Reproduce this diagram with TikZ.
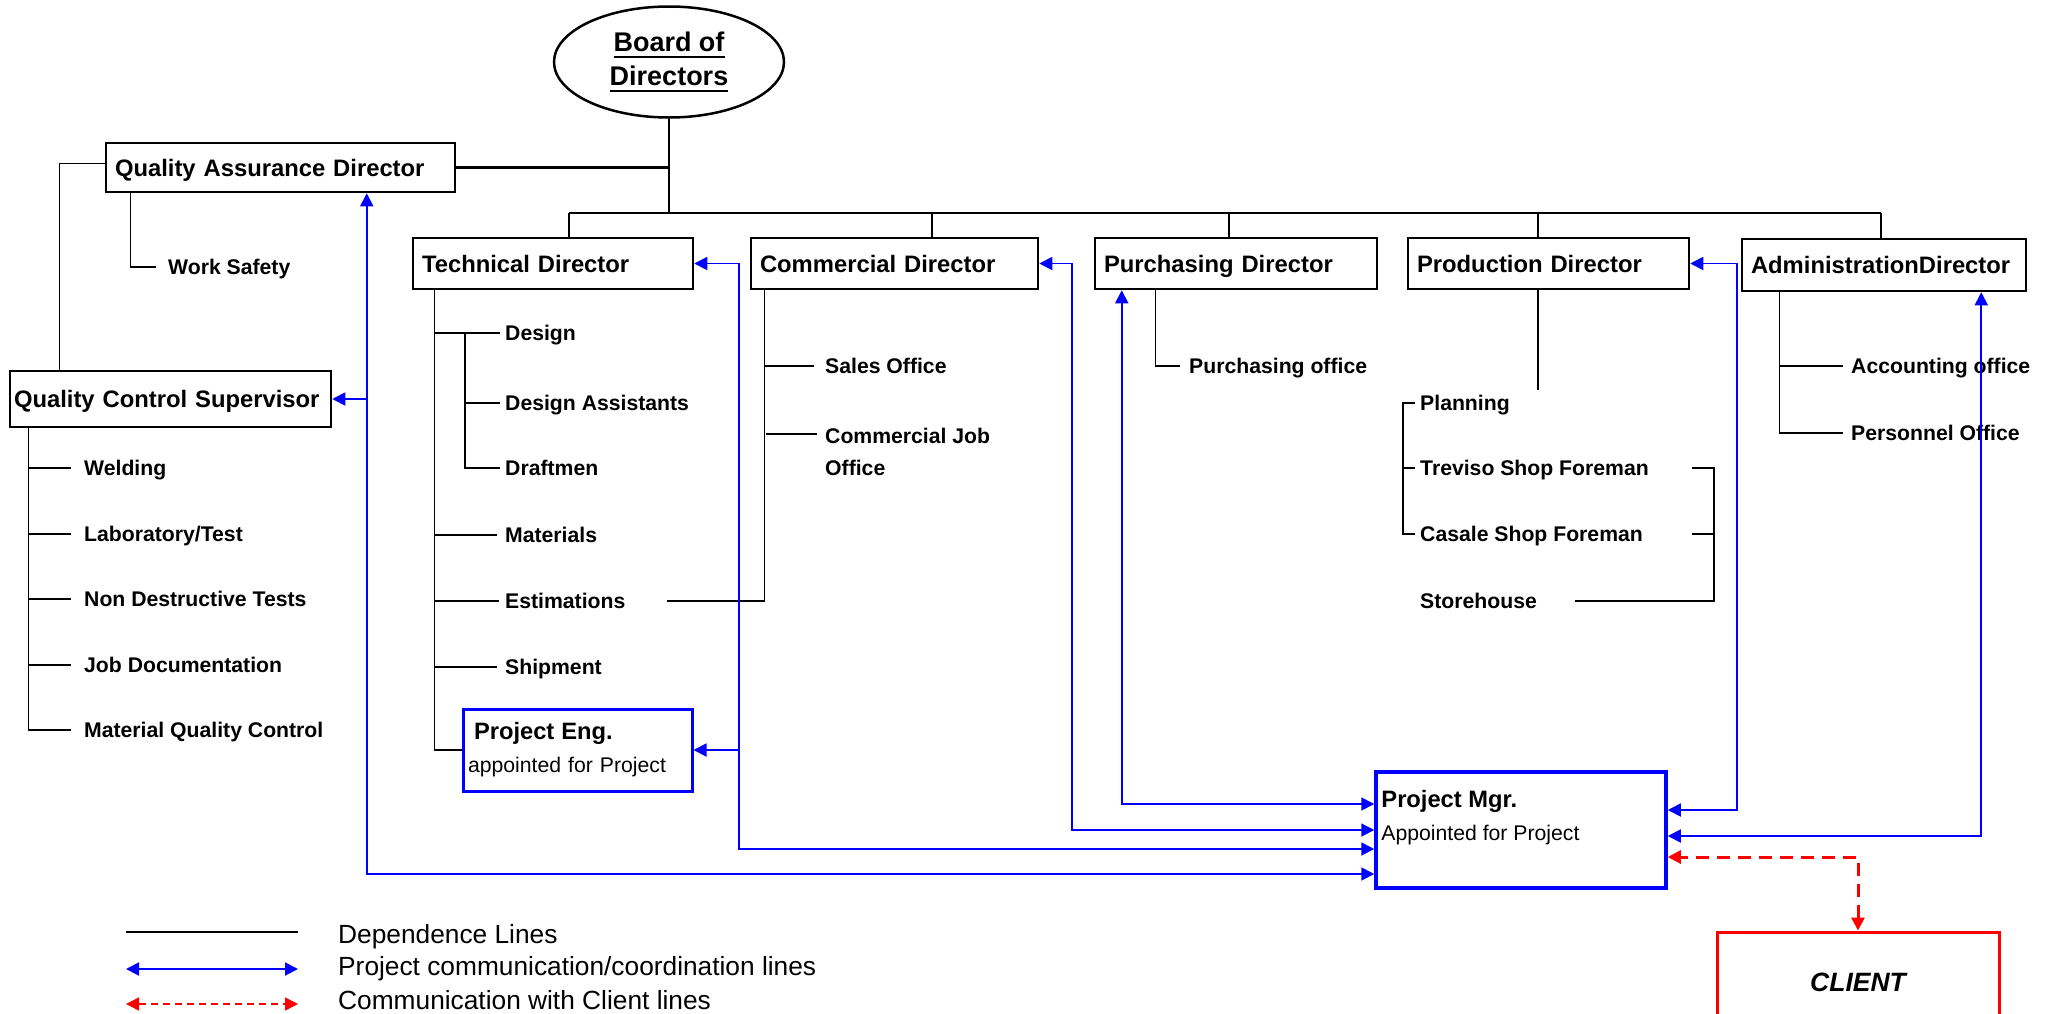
\documentclass[tikz,border=0pt]{standalone}
\usepackage{fontspec}
\setmainfont{Liberation Sans}
\usetikzlibrary{shapes.geometric,arrows.meta}

\newsavebox\ulbox
\newcommand{\ulbold}[1]{\sbox\ulbox{#1}\rlap{\rule[-6.5pt]{\wd\ulbox}{2.5pt}}\usebox\ulbox}

\tikzset{
  dep/.style={draw=black,line width=1.4pt},
  depthick/.style={draw=black,line width=2.6pt},
  pcline/.style={draw=blue,line width=1.8pt},
  cliline/.style={draw=red,line width=3pt,dash pattern=on 13pt off 8pt},
  clilegend/.style={draw=red,line width=1.6pt,dash pattern=on 7pt off 5pt},
  dirbox/.style={draw=black,line width=2.5pt,align=left,inner xsep=9pt,
    text height=17pt,text depth=0pt,font=\bfseries\fontsize{23.8}{28}\selectfont},
  office/.style={anchor=west,inner sep=0pt,text height=15.2pt,text depth=0pt,
    font=\bfseries\fontsize{21.2}{32}\selectfont},
  pebox/.style={draw=blue,line width=3pt,align=left,inner xsep=5pt,
    font=\fontsize{21.2}{33}\selectfont},
  pmbox/.style={draw=blue,line width=3.5pt},
  clibox/.style={draw=red,line width=3pt,font=\bfseries\itshape\fontsize{26.5}{30}\selectfont},
  boardnode/.style={ellipse,draw=black,line width=2.5pt,align=center,inner sep=0pt,
    font=\bfseries\fontsize{27}{34}\selectfont},
  legtext/.style={anchor=west,inner sep=0pt,text height=18.8pt,text depth=0pt,
    font=\fontsize{26.3}{30}\selectfont}
}

\begin{document}
\begin{tikzpicture}[x=1pt,y=-1pt,>={Triangle[length=13pt,width=13pt]}]
  \path[use as bounding box] (0,0) rectangle (2051,1013);

  \node[boardnode,minimum width=230pt,minimum height=111pt] (board) at (669,62) {\ulbold{Board of}\\\ulbold{Directors}};
  \node[dirbox,text width=331pt,minimum height=49pt] (qa) at (280.5,167.5) {Quality Assurance Director};
  \node[dirbox,text width=313pt,inner xsep=4pt,minimum height=56pt] (qcs) at (170.5,399) {Quality Control Supervisor};
  \node[dirbox,text width=262pt,minimum height=51pt] (td) at (553,263.5) {Technical Director};
  \node[dirbox,text width=269pt,minimum height=51pt] (cd) at (894.5,263.5) {Commercial Director};
  \node[dirbox,text width=264pt,minimum height=51pt] (pd) at (1236,263.5) {Purchasing Director};
  \node[dirbox,text width=263pt,minimum height=51pt] (prd) at (1548.5,263.5) {Production Director};
  \node[dirbox,text width=266pt,minimum height=52pt] (ad) at (1884,265) {AdministrationDirector};
  \node[pebox,text width=219pt,minimum height=82pt] (pe) at (577.5,750) {{\bfseries\fontsize{23.7}{33}\selectfont\hspace*{6pt}Project Eng.}\\appointed for Project};
  \node[pmbox,minimum width=290pt,minimum height=116pt] (pm) at (1521,830) {};
  \node[anchor=north west,inner sep=0pt,align=left,font=\fontsize{21.2}{33}\selectfont] (pmtext) at ([xshift=7pt,yshift=-20pt]pm.north west) {{\bfseries\fontsize{23.7}{33}\selectfont Project Mgr.}\\Appointed for Project};
  \node[clibox,minimum width=282pt,minimum height=100pt] (client) at (1858,982) {CLIENT};

  \node[office] (ws) at (168,267) {Work Safety};
  \node[office] (weld) at (84,468) {Welding};
  \node[office] (lab) at (84,534) {Laboratory/Test};
  \node[office] (ndt) at (84,599) {Non Destructive Tests};
  \node[office] (jobdoc) at (84,665) {Job Documentation};
  \node[office] (mqc) at (84,730) {Material Quality Control};
  \node[office] (design) at (505,333) {Design};
  \node[office] (dassist) at (505,403) {Design Assistants};
  \node[office] (draft) at (505,468) {Draftmen};
  \node[office] (mat) at (505,535) {Materials};
  \node[office] (estim) at (505,601) {Estimations};
  \node[office] (ship) at (505,667) {Shipment};
  \node[office] (sales) at (825,366) {Sales Office};
  \node[office,align=left] (cjo) at (825,468) {Commercial Job\\Office};
  \node[office] (po) at (1189,366) {Purchasing office};
  \node[office] (plan) at (1420,403) {Planning};
  \node[office] (tsf) at (1420,468) {Treviso Shop Foreman};
  \node[office] (csf) at (1420,534) {Casale Shop Foreman};
  \node[office] (store) at (1420,601) {Storehouse};
  \node[office] (acc) at (1851,366) {Accounting office};
  \node[office] (pers) at (1851,433) {Personnel Office};

  \node[legtext] (leg1) at (338,934) {Dependence Lines};
  \node[legtext] (leg2) at (338,966) {Project communication/coordination lines};
  \node[legtext] (leg3) at (338,1000) {Communication with Client lines};

  \coordinate (busl) at (569,213);
  \coordinate (busr) at (1881,213);
  \coordinate (bcd) at (932,213);
  \coordinate (bpd) at (1229,213);
  \coordinate (bprd) at (1538,213);
  \draw[depthick] (board.south) -- (board.south |- busl);
  \draw[depthick] (qa.east) -- (qa.east -| board.south);
  \draw[depthick] (busl) -- (busr);
  \draw[dep,line width=2pt] (busl) -- (busl |- td.north);
  \draw[dep,line width=2pt] (bcd) -- (bcd |- cd.north);
  \draw[dep,line width=2pt] (bpd) -- (bpd |- pd.north);
  \draw[dep,line width=2pt] (bprd) -- (bprd |- prd.north);
  \draw[dep,line width=2pt] (busr) -- (busr |- ad.north);

  \draw[dep] ([yshift=4pt]qa.west) -| ([xshift=51pt]qcs.north west);
  \draw[dep] ([xshift=26pt]qa.south west) |- ([xshift=-12pt]ws.west);
  \coordinate (qcsspine) at ([xshift=20pt]qcs.south west);
  \draw[dep] (qcsspine) |- ([xshift=-13pt]mqc.west);
  \draw[dep] (weld.west -| qcsspine) -- ([xshift=-13pt]weld.west);
  \draw[dep] (lab.west -| qcsspine) -- ([xshift=-13pt]lab.west);
  \draw[dep] (ndt.west -| qcsspine) -- ([xshift=-13pt]ndt.west);
  \draw[dep] (jobdoc.west -| qcsspine) -- ([xshift=-13pt]jobdoc.west);

  \coordinate (tdspine) at ([xshift=23pt]td.south west);
  \draw[dep] (tdspine) |- (pe.west);
  \draw[dep] (design.west -| tdspine) -- ([xshift=-5pt]design.west);
  \draw[dep] ([xshift=-40pt]design.west) |- ([xshift=-5pt]draft.west);
  \draw[dep] ([xshift=-40pt]dassist.west) -- ([xshift=-5pt]dassist.west);
  \draw[dep] (mat.west -| tdspine) -- ([xshift=-8pt]mat.west);
  \draw[dep] (estim.west -| tdspine) -- ([xshift=-6pt]estim.west);
  \draw[dep] (ship.west -| tdspine) -- ([xshift=-8pt]ship.west);

  \coordinate (cdspine) at ([xshift=15pt]cd.south west);
  \draw[dep] ([xshift=41pt]estim.east) -| (cdspine);
  \draw[dep] (sales.west -| cdspine) -- ([xshift=-11pt]sales.west);
  \draw[dep] ([xshift=-59pt,yshift=34pt]cjo.west) -- ([xshift=-8pt,yshift=34pt]cjo.west);

  \draw[dep] ([xshift=62pt]pd.south west) |- ([xshift=-9pt]po.west);

  \coordinate (prdend) at (1538,390);
  \coordinate (prdright) at (1714,468);
  \draw[dep] (prdend |- prd.south) -- (prdend);
  \draw[dep] ([xshift=-5pt]plan.west) -| ([xshift=-17pt]csf.west) -- ([xshift=-5pt]csf.west);
  \draw[dep] ([xshift=-17pt]tsf.west) -- ([xshift=-5pt]tsf.west);
  \draw[dep] ([xshift=43pt]tsf.east) -- (tsf.east -| prdright) -- (store.east -| prdright) -- ([xshift=38pt]store.east);
  \draw[dep] ([xshift=49pt]csf.east) -- (csf.east -| prdright);

  \coordinate (adspine) at ([xshift=39pt]ad.south west);
  \draw[dep] (adspine) |- ([xshift=-8pt]pers.west);
  \draw[dep] (acc.west -| adspine) -- ([xshift=-8pt]acc.west);

  \coordinate (qacom) at ([xshift=262pt]qa.south west);
  \coordinate (tdcom) at ([xshift=45pt]td.east);
  \draw[pcline,<->] (qacom) |- ([yshift=-44pt]pm.west);
  \draw[pcline,->] (qcs.east -| qacom) -- (qcs.east);
  \draw[pcline,<->] (td.east) -- (tdcom) |- ([yshift=-19pt]pm.west);
  \draw[pcline,->] (pe.east -| tdcom) -- (pe.east);
  \draw[pcline,<->] (cd.east) -- ([xshift=33pt]cd.east) |- (pm.west);
  \draw[pcline,<->] ([xshift=28pt]pd.south west) |- ([yshift=26pt]pm.west);
  \draw[pcline,<->] (prd.east) -- ([xshift=47pt]prd.east) |- ([yshift=20pt]pm.east);
  \draw[pcline,<->] ([xshift=-46pt]ad.south east) |- ([yshift=-6pt]pm.east);
  \draw[cliline,<->] (client.north) |- ([yshift=-27pt]pm.east);

  \draw[dep,line width=2pt] ([xshift=-212pt,yshift=2pt]leg1.west) -- ([xshift=-40pt,yshift=2pt]leg1.west);
  \draw[pcline,line width=2pt,<->] ([xshift=-212pt,yshift=-3pt]leg2.west) -- ([xshift=-40pt,yshift=-3pt]leg2.west);
  \draw[clilegend,<->] ([xshift=-212pt,yshift=-4pt]leg3.west) -- ([xshift=-40pt,yshift=-4pt]leg3.west);
\end{tikzpicture}
\end{document}
